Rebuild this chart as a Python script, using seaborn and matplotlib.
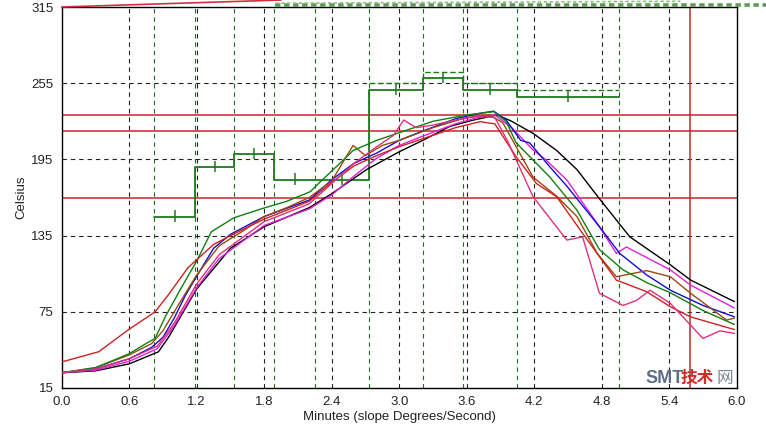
import matplotlib
matplotlib.use("Agg")
import matplotlib.pyplot as plt
import seaborn as sns
import pandas as pd

# ---- data -------------------------------------------------------------
x_ticks = [0.0, 0.6, 1.2, 1.8, 2.4, 3.0, 3.6, 4.2, 4.8, 5.4, 6.0]
y_ticks = [15, 75, 135, 195, 255, 315]

zone_edges = [0.823, 1.185, 1.534, 1.89, 2.254, 2.734, 3.215, 3.57, 4.05, 4.956]
zone_setpoints = [150, 189, 199, 179, 179, 250, 259, 250, 244]
upper_edges = [2.734, 3.215, 3.57, 4.05, 4.956]
upper_limits = [255, 264, 255, 250]

limit_lines = [230, 217, 165]
marker_time = 5.585

black_x = [0, 0.3, 0.6, 0.86, 0.95, 1.2, 1.5, 1.8, 2.2, 2.4, 2.71, 3.0, 3.21, 3.45, 3.66, 3.87, 4.0, 4.19, 4.4, 4.58, 4.78, 5.05, 5.41, 5.59, 5.98]
black_y = [27, 28.5, 34, 43.5, 55, 93, 125, 142, 157, 168, 187, 201, 210, 221, 226, 230, 225, 215.5, 202, 187, 164, 134, 112, 100, 83]

blue_x = [0, 0.3, 0.6, 0.8, 0.9, 1.0, 1.1, 1.2, 1.35, 1.5, 1.8, 2.2, 2.4, 2.6, 2.8, 3.0, 3.2, 3.5, 3.7, 3.84, 3.95, 4.08, 4.16, 4.34, 4.49, 4.78, 4.96, 5.2, 5.41, 5.7, 5.98]
blue_y = [27, 30, 38, 47, 55, 70, 88, 103, 125, 136, 150, 163, 179, 192, 200, 210, 217, 227, 231, 233, 226, 210, 208, 189, 174, 142, 121, 104, 92, 80, 71]

green_x = [0, 0.3, 0.6, 0.75, 0.83, 0.92, 1.07, 1.2, 1.33, 1.53, 1.79, 2.0, 2.21, 2.3, 2.45, 2.59, 2.8, 3.0, 3.3, 3.6, 3.84, 3.95, 4.04, 4.34, 4.58, 4.78, 4.99, 5.2, 5.41, 5.7, 5.98]
green_y = [27, 31, 42, 50, 54, 71, 95, 115, 138, 149, 156.5, 162, 169.6, 177.5, 190, 202, 210, 216, 225, 230, 232.6, 225, 208, 181, 155, 124, 108, 98, 90, 76, 65]

red_x = [0, 0.33, 0.59, 0.83, 0.945, 1.12, 1.2, 1.35, 1.5, 1.8, 2.2, 2.4, 2.6, 2.8, 3.0, 3.3, 3.5, 3.72, 3.85, 4.04, 4.22, 4.4, 4.63, 4.93, 5.2, 5.41, 5.59, 5.98]
red_y = [35.5, 43.6, 60.7, 75, 88, 109.5, 116, 128, 135, 148, 162, 177, 190, 198, 205, 214, 220, 224.7, 223, 197, 176, 165.6, 136.8, 100, 90.8, 79, 71, 61]

magenta_x = [0, 0.3, 0.6, 0.85, 1.0, 1.2, 1.4, 1.6, 1.8, 2.2, 2.4, 2.6, 2.8, 3.0, 3.2, 3.5, 3.7, 3.85, 4.0, 4.19, 4.3, 4.49, 4.78, 4.93, 5.02, 5.41, 5.59, 5.98]
magenta_y = [27, 29, 36, 46, 64, 94, 117, 130, 143, 156, 167, 182, 196, 206, 213, 223, 228, 230, 220, 202.4, 195, 178.8, 142, 121, 126, 108, 96, 78]

pink_x = [0, 0.3, 0.6, 0.85, 1.0, 1.2, 1.4, 1.6, 1.8, 2.2, 2.4, 2.6, 2.8, 2.95, 3.04, 3.15, 3.3, 3.5, 3.7, 3.85, 3.96, 4.19, 4.49, 4.63, 4.78, 4.99, 5.11, 5.23, 5.41, 5.7, 5.85, 5.98]
pink_y = [27, 30, 38, 48, 66, 97, 120, 133, 146, 160, 176, 192, 205, 214, 226, 220, 222, 226, 229, 228, 210, 165.6, 131.5, 134, 89.6, 80, 84, 92, 81.7, 54, 60, 58]

brown_x = [0, 0.3, 0.6, 0.8, 0.9, 1.0, 1.2, 1.4, 1.6, 1.8, 2.0, 2.2, 2.4, 2.59, 2.7, 2.85, 3.0, 3.3, 3.6, 3.8, 3.92, 4.04, 4.19, 4.4, 4.58, 4.76, 4.93, 5.2, 5.41, 5.59, 5.91, 5.98]
brown_y = [27, 31, 41, 50, 60, 75, 104, 127, 138, 150, 157, 165, 178, 206, 198, 206, 210, 220, 228, 230, 224, 205, 181, 166, 150, 121, 102.6, 107.4, 102.6, 89.6, 68.5, 70]

series = {
    "black": (black_x, black_y),
    "magenta": (magenta_x, magenta_y),
    "blue": (blue_x, blue_y),
    "brown": (brown_x, brown_y),
    "green": (green_x, green_y),
    "red": (red_x, red_y),
    "pink": (pink_x, pink_y),
}
palette = {
    "black": "#000000",
    "magenta": "#e020d8",
    "blue": "#1010d0",
    "brown": "#9a4a10",
    "green": "#108010",
    "red": "#d02020",
    "pink": "#e0307a",
}

rows = []
for name, (xs, ys) in series.items():
    for i, (xv, yv) in enumerate(zip(xs, ys)):
        rows.append({"curve": name, "order": i, "Minutes": xv, "Celsius": yv})
df = pd.DataFrame(rows)

# ---- style ------------------------------------------------------------
sns.set_style("white")
plt.rcParams["font.family"] = ["Liberation Sans", "DejaVu Sans"]

fig = plt.figure(figsize=(7.66, 4.25), dpi=100)
ax = fig.add_axes([61.7 / 766, 37 / 425, 675 / 766, 381 / 425])

ax.set_xlim(0, 6.0)
ax.set_ylim(15, 315)
ax.set_xticks(x_ticks)
ax.set_yticks(y_ticks)
ax.set_xticklabels([f"{v:.1f}" for v in x_ticks], fontsize=9.5)
ax.set_yticklabels([str(v) for v in y_ticks], fontsize=9.5)
ax.tick_params(axis="both", length=4, width=0.8, color="black", pad=2, labelcolor="#222222")

# grid
for xv in x_ticks[1:-1]:
    ax.axvline(xv, color="#222222", lw=0.8, ls=(0, (4, 3.5)), zorder=1)
for yv in y_ticks[1:-1]:
    ax.axhline(yv, color="#222222", lw=0.8, ls=(0, (4, 3.5)), zorder=1)
for xv in zone_edges:
    ax.axvline(xv, color="#1f6b1f", lw=0.8, ls=(0, (4, 3.5)), zorder=1)

# limits
for yv in limit_lines:
    ax.axhline(yv, color="#c0282d", lw=1.1, zorder=2)
ax.axvline(marker_time, color="#c0282d", lw=1.1, zorder=2)

# setpoint steps
sns.lineplot(x=zone_edges, y=zone_setpoints + [zone_setpoints[-1]], drawstyle="steps-post",
             color="#1f7a1f", lw=1.3, ax=ax, zorder=3, estimator=None)
sns.lineplot(x=upper_edges, y=upper_limits + [upper_limits[-1]], drawstyle="steps-post",
             color="#1f7a1f", lw=1.0, ls=(0, (4, 2)), ax=ax, zorder=3, estimator=None)
mids = [(a + b) / 2 for a, b in zip(zone_edges[:-1], zone_edges[1:])]
ax.vlines(mids, [v - 4 for v in zone_setpoints], [v + 5 for v in zone_setpoints],
          color="#1f7a1f", lw=1.1, zorder=3)

# profile curves
sns.lineplot(data=df, x="Minutes", y="Celsius", hue="curve", units="curve", estimator=None,
             sort=False, palette=palette, lw=1.0, ax=ax, legend=False, zorder=4)

ax.set_xlabel("Minutes (slope Degrees/Second)", fontsize=9.5, labelpad=2, color="#222222")
ax.set_ylabel("Celsius", fontsize=9.5, labelpad=3, color="#222222")

for s in ax.spines.values():
    s.set_color("black")
    s.set_linewidth(1.0)

# artefacts above the plot area
ax.plot([0, 1.95], [315, 320.5], color="#d03040", lw=1.2, clip_on=False, zorder=5)
ax.plot([1.9, 6.35], [316.2, 316.2], color="#5f9a55", lw=2.6, ls=(0, (1.5, 1)), clip_on=False, zorder=5)
ax.plot([1.9, 5.5], [318.0, 319.5], color="#8fbf85", lw=1.2, ls=(0, (2, 1.5)), clip_on=False, zorder=5)

# watermark (inside the empty lower-right corner of the plot area)
fig.text(0.842, 0.098, "SMT", fontsize=13, fontweight="bold", color="#5d6e86",
         family=["Liberation Sans", "DejaVu Sans"], va="baseline", zorder=10)
fig.text(0.888, 0.098, "技术", fontsize=12, fontweight="bold", color="#d42a2a",
         family=["Noto Sans CJK SC", "DejaVu Sans"], va="baseline", zorder=10)
fig.text(0.935, 0.098, "网", fontsize=12, color="#7a8595",
         family=["Noto Sans CJK SC", "DejaVu Sans"], va="baseline", zorder=10)

fig.savefig("out.png", dpi=100)
